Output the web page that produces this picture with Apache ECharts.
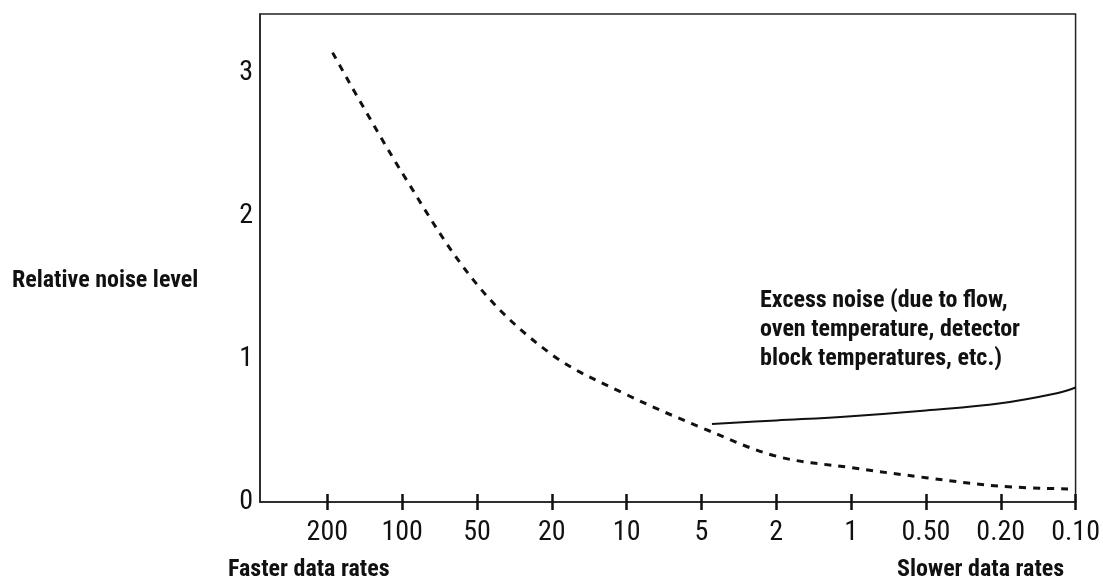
<!DOCTYPE html>
<html><head><meta charset="utf-8">
<script src="https://cdn.jsdelivr.net/npm/echarts@6/dist/echarts.min.js"></script>
<style>html,body{margin:0;padding:0;background:#fff}#c{width:1103px;height:582px}</style>
</head><body><div id="c"></div>
<script>
var rateLabels = ['200','100','50','20','10','5','2','1','0.50','0.20','0.10'];
var tickIdx = [0,1,2,3,4,5,6,7,8,9,10];
var yTicks = [0,1,2,3];
// dashed curve: [category index, relative noise]
var baseX = [0.07, 1, 2, 3, 4, 5, 6, 7, 8, 9, 10];
var baseY = [3.14, 2.3, 1.52, 1.03, 0.75, 0.52, 0.32, 0.24, 0.17, 0.11, 0.09];
// solid excess-noise curve
var excessX = [5.14, 6, 7, 8, 9, 9.75, 10];
var excessY = [0.545, 0.57, 0.60, 0.64, 0.69, 0.76, 0.80];

var FN = '"Liberation Sans Narrow","Arial Narrow","Roboto Condensed",sans-serif';
function zip(a,b){return a.map(function(v,i){return [v,b[i]];});}
var chart = echarts.init(document.getElementById('c'), null, {renderer:'canvas'});
chart.setOption({
  animation:false,
  grid:{left:260,right:26,top:14,bottom:80,show:true,borderColor:'#222',borderWidth:1.5,backgroundColor:'transparent'},
  xAxis:[{
    type:'value',min:-0.9,max:10,
    axisLine:{show:true,onZero:false,lineStyle:{color:'#222',width:1.5}},
    splitLine:{show:false},
    axisTick:{show:true,length:8,lineStyle:{color:'#111',width:2.5},customValues:tickIdx},
    axisLabel:{customValues:tickIdx,margin:17,color:'#111',fontFamily:FN,fontSize:28,
      formatter:function(v){return rateLabels[Math.round(v)];}}
  },{
    type:'value',min:-0.9,max:10,position:'bottom',
    axisLine:{show:false,onZero:false},splitLine:{show:false},
    axisTick:{show:true,inside:true,length:8,lineStyle:{color:'#111',width:2.5},customValues:tickIdx},
    axisLabel:{show:false}
  }],
  yAxis:{
    type:'value',min:0,max:3.41,
    axisLine:{show:true,onZero:false,lineStyle:{color:'#222',width:1.5}},
    axisTick:{show:false},splitLine:{show:false},
    axisLabel:{customValues:yTicks,margin:7,color:'#111',fontFamily:FN,fontSize:28}
  },
  series:[{
    type:'line',data:zip(baseX,baseY),smooth:0.35,symbol:'none',
    lineStyle:{color:'#111',width:3,type:[7,7]}
  },{
    type:'line',data:zip(excessX,excessY),smooth:0.4,symbol:'none',
    lineStyle:{color:'#111',width:2,type:'solid'}
  }],
  graphic:[
    {type:'text',left:12,top:267,style:{text:'Relative noise level',font:'bold 24px '+FN,lineHeight:28,fill:'#111'}},
    {type:'text',left:228,top:556,style:{text:'Faster data rates',font:'bold 24px '+FN,lineHeight:28,fill:'#111'}},
    {type:'text',left:897,top:556,style:{text:'Slower data rates',font:'bold 24px '+FN,lineHeight:28,fill:'#111'}},
    {type:'text',left:760,top:286,style:{text:'Excess noise (due to flow,\noven temperature, detector\nblock temperatures, etc.)',font:'bold 24px '+FN,lineHeight:29,fill:'#111'}}
  ]
});
</script></body></html>
